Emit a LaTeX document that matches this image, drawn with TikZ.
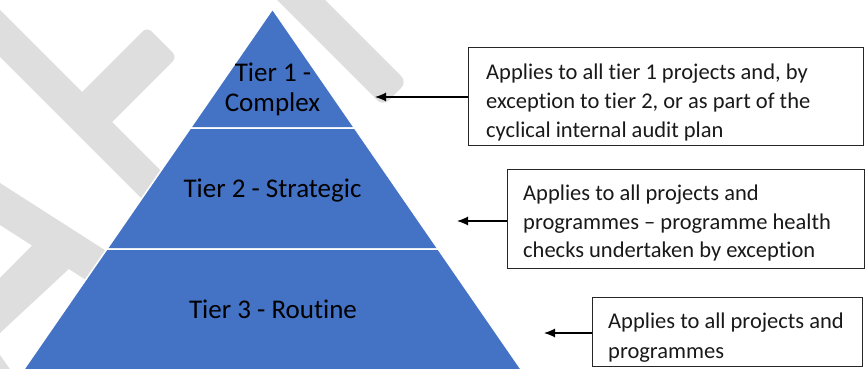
\documentclass[tikz,border=0pt]{standalone}
\usepackage{fontspec}
\setmainfont{Carlito}[Ligatures={NoCommon}]
\usetikzlibrary{arrows.meta}
\definecolor{wm}{RGB}{222,222,222}
\definecolor{tierblue}{RGB}{68,114,196}
\begin{document}
\begin{tikzpicture}[x=1pt,y=-1pt,
  wmshape/.style={fill=wm,draw=none},
  tier/.style={fill=tierblue,draw=white,line width=1.5pt,line join=miter},
  tierlbl/.style={font=\fontsize{27}{31}\selectfont,anchor=base,inner sep=0pt,text=black},
  notebox/.style={draw=black!85,line width=1.2pt,inner sep=0pt,anchor=north west},
  notetext/.style={font=\fontsize{22.5}{28}\selectfont,anchor=base west,inner sep=0pt,text=black!90},
  arr/.style={-{Latex[length=11pt,width=9pt]},line width=1.2pt,black}]
\useasboundingbox (0,0) rectangle (865,369);
% watermark
\fill[wmshape] (-20,-10) -- (210,220) -- (210,267) -- (-20,37) -- cycle;
\fill[wmshape,rounded corners=6pt] (147,27) -- (177,57) -- (100,134) -- (70,104) -- cycle;
\fill[wmshape,rounded corners=8pt] (270,-7) -- (318,-7) -- (407,82) -- (383,106) -- cycle;
\fill[wmshape] (0,183) -- (140,272.6) -- (140,314.6) -- (68.8,269) -- (0,333) -- (0,278) -- (32,245.5) -- (0,225) -- cycle;
\fill[wmshape] (0,355) -- (12,372) -- (0,372) -- cycle;
% pyramid
\draw[tier] (272.5,9) -- (354.6,128) -- (190.4,128) -- cycle;
\draw[tier] (190.4,128) -- (354.6,128) -- (438.1,249) -- (106.9,249) -- cycle;
\draw[tier] (106.9,249) -- (438.1,249) -- (523,372) -- (22,372) -- cycle;
\node[tierlbl] (t1a) at (273,81.7) {Tier 1 -};
\node[tierlbl] (t1b) at (272.5,111.7) {Complex};
\node[tierlbl] (t2) at (272.5,197.3) {Tier 2 - Strategic};
\node[tierlbl] (t3) at (273,318.3) {Tier 3 - Routine};
% boxes
\node[notebox,minimum width=395pt,minimum height=98pt] (box1) at (468,47) {};
\node[notebox,minimum width=357pt,minimum height=99pt] (box2) at (507,169) {};
\node[notebox,minimum width=270pt,minimum height=69pt] (box3) at (592,297) {};
\begin{scope}
\clip (468,47) rectangle (863,140);
\node[notetext] (b1l1) at (486,80) {Applies to all tier 1 projects and, by};
\node[notetext] (b1l2) at (486,108.5) {exception to tier 2, or as part of the};
\node[notetext] (b1l3) at (486,137) {cyclical internal audit plan};
\end{scope}
\begin{scope}
\clip (507,169) rectangle (864,260.5);
\node[notetext] (b2l1) at (523,200) {Applies to all projects and};
\node[notetext] (b2l2) at (523,229) {programmes -- programme health};
\node[notetext] (b2l3) at (523,257.7) {checks undertaken by exception};
\end{scope}
\begin{scope}
\clip (592,297) rectangle (862,361.5);
\node[notetext] (b3l1) at (608,328.3) {Applies to all projects and};
\node[notetext] (b3l2) at (608,358) {programmes};
\end{scope}
% arrows
\coordinate (a1) at (375,97);
\coordinate (a2) at (457,221);
\coordinate (a3) at (544,333);
\draw[arr] (box1.west |- a1) -- (a1);
\draw[arr] (box2.west |- a2) -- (a2);
\draw[arr] (box3.west |- a3) -- (a3);
\end{tikzpicture}
\end{document}
